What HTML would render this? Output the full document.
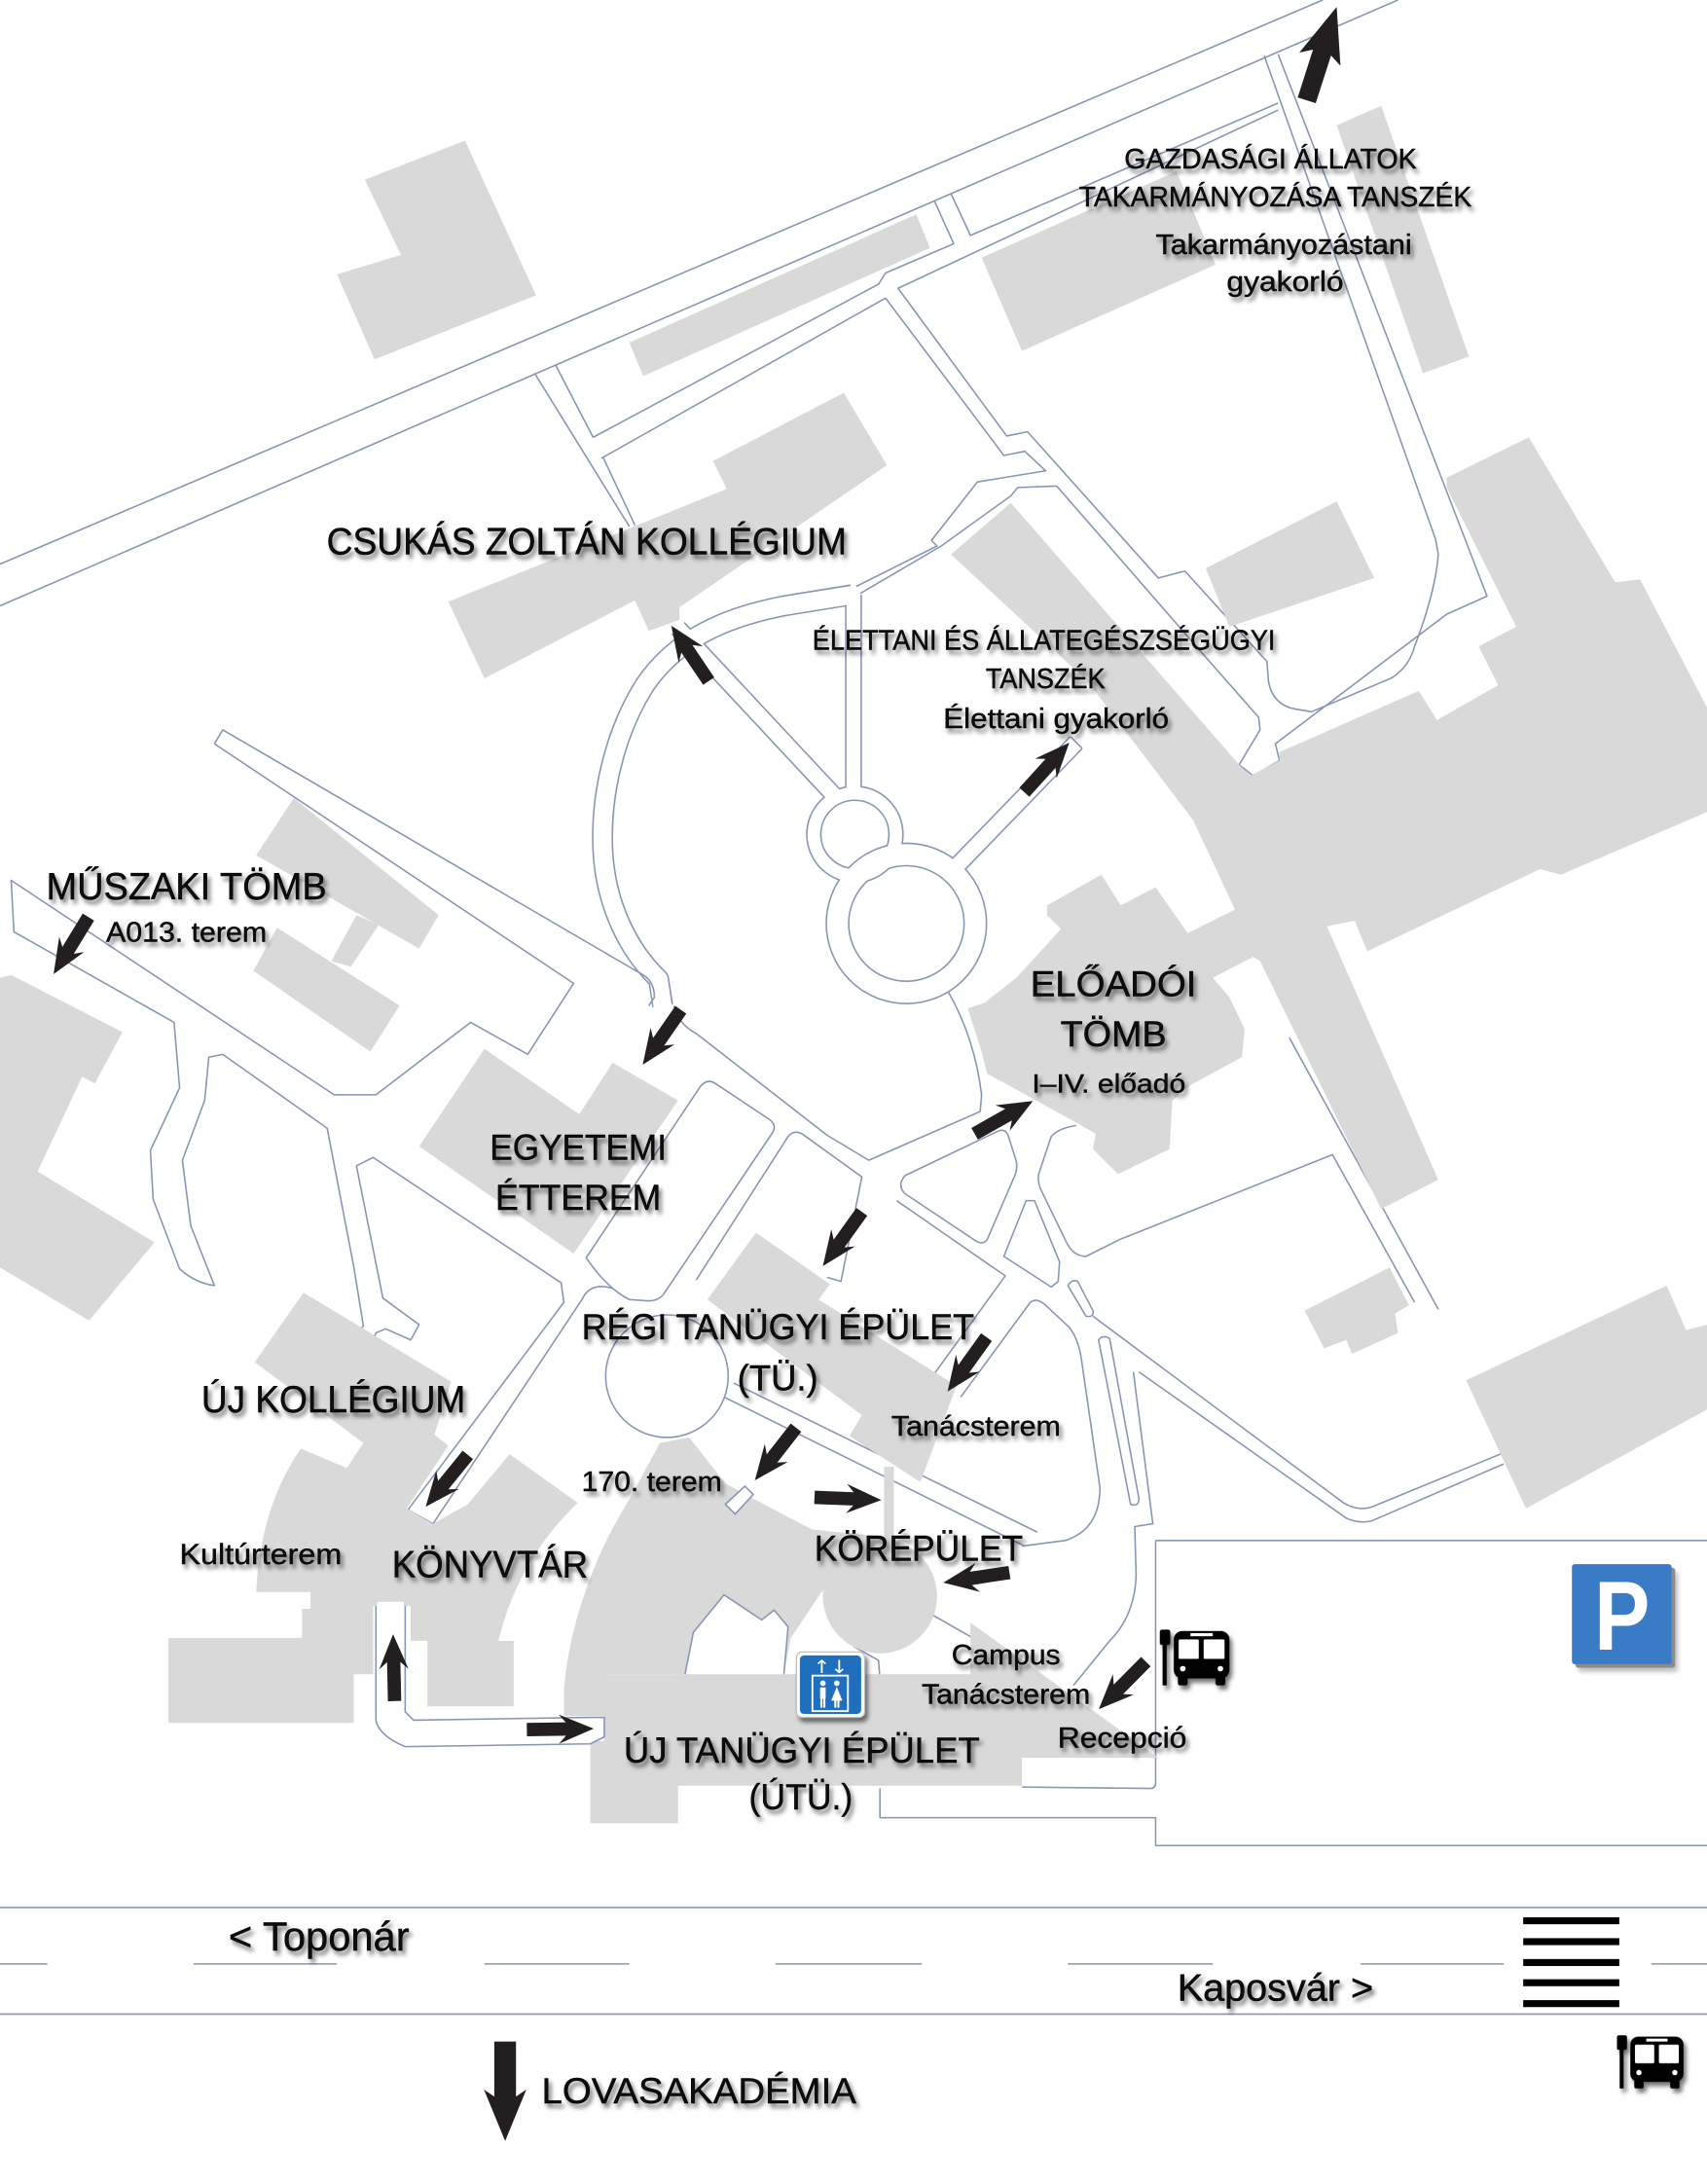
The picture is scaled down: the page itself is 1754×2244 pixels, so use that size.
<!DOCTYPE html>
<html><head><meta charset="utf-8"><title>Campus map</title>
<style>
html,body{margin:0;padding:0;background:#fff;}
svg{display:block;}
text{font-family:"Liberation Sans",sans-serif;fill:#0a0a0a;}
</style></head>
<body>
<svg xmlns="http://www.w3.org/2000/svg" width="1754" height="2244" viewBox="0 0 1226 1568" preserveAspectRatio="none">
<defs>
<filter id="sh" x="-20%" y="-40%" width="140%" height="200%">
<feDropShadow dx="2" dy="3" stdDeviation="1.6" flood-color="#000" flood-opacity="0.55"/>
</filter>
</defs>
<rect x="0" y="0" width="1226" height="1568" fill="#fff"/>

<!-- stroke-trick roads: blue pass -->
<g fill="none" stroke="#8795b5" stroke-linecap="butt" stroke-linejoin="round">
<circle cx="614" cy="599" r="29.5" stroke-width="11.2"/>
<circle cx="651" cy="663" r="49.5" stroke-width="17.2"/>
<path d="M613,427 L613,568" stroke-width="12.2"/>
<path d="M487,451 L598,570" stroke-width="13.2"/>
<path d="M686,623 L773,533" stroke-width="13.2"/>
<path d="M612,427 L563,435 C522,443 486,458 463,492 C441,527 431,572 433,611 C435,649 451,682 473,703 L476,722" stroke-width="15.2"/>
</g>
<!-- white pass -->
<g fill="none" stroke="#fff" stroke-linecap="butt" stroke-linejoin="round">
<circle cx="614" cy="599" r="29.5" stroke-width="9"/>
<circle cx="651" cy="663" r="49.5" stroke-width="15"/>
<path d="M613,426 L613,569" stroke-width="10"/>
<path d="M486,450 L599,571" stroke-width="11"/>
<path d="M685,624 L774,532" stroke-width="11"/>
<path d="M613,427 L563,435 C522,443 486,458 463,492 C441,527 431,572 433,611 C435,649 451,682 473,703 L476,723" stroke-width="13"/>
</g>

<!-- plain road lines -->
<g fill="none" stroke="#8795b5" stroke-width="1.1" stroke-linejoin="round">
<path d="M0,405 L950,0"/>
<path d="M0,435 L1004,0"/>
<path d="M384,268 L452,378 M399,262 L426,314 M433,328 L456,377"/>
<path d="M426,314 L631,204 L636,196 L685,175 L671,144"/>
<path d="M683,139 L697,169 L918,74"/>
<path d="M918,79 L645,207 L723,313 L738,310 L832,415 L851,410 L910,475 L911,489 Q914,506 930,509 L942,511 L999,487 Q1012,479 1016,464 Q1031,425 1033,398 L1031,387 L908,40"/>
<path d="M432,329 L636,214 L721,327 L736,324 L751,338 L702,346 L669,388 L673,392 L615,421"/>
<path d="M759,349 L860,465 L904,515 L905,524 L890,549 L900,557 L919,546 L916,534 L1039,441 L1068,428 L918,39"/>
<path d="M759,349 L731,350 L726,356 L676,392 L618,426"/>
<path d="M769,529 L777,537"/>
<!-- Muszaki area -->
<path d="M154,534 L412,706 L379,757 L338,734 L270,786 L240,786 L8,632 L10,669 L125,734 L129,781 L108,826 L110,861 L129,911 Q140,921 154,923 L137,880 L131,833 L147,790 L150,759 L160,757 L235,810 L254,909 L261,952 L259,954"/>
<path d="M154,534 L160,524 L462,700 Q470,705 470,716 L466,722"/>
<path d="M268,962 L270,957 L277,954 L295,962 L301,951 L275,932 L256,837 L268,831 L403,921 L405,935 L293,1084 L311,1094 L418,933 Q424,920 440,925"/>
<!-- E road -->
<path d="M681,712 Q700,745 705,786 L704,798 L624,833 L594,815 L500,742 Q487,735 484,722"/>
<!-- lower right -->
<path d="M773,808 Q760,810 755,816 L746,843 Q745,849 748,855 L766,892 Q771,902 780,902 L804,890 L957,829 L1016,935"/>
<path d="M926,745 L1033,940"/>
<path d="M644,862 L722,916 L664,996"/>
<path d="M690,1003 L740,935 Q745,931 752,938 L768,953 Q775,962 777,978 L790,1068 Q790,1098 765,1106 L734,1110"/>
<path d="M785,945 L965,1079 Q975,1085 985,1082 L1080,1043"/>
<path d="M818,985 L967,1090 Q976,1094 985,1092 L1080,1051"/>
<path d="M814,985 L828,1094 L815,1096 L816,1131 Q815,1160 797,1178 L771,1210"/>
<path d="M520,1003 L736,1110 M527,993 L745,1100"/>
<path d="M669,1159 L697,1175 M613,1182 L631,1192 L632,1206"/>
<!-- parking -->
<path d="M830,1106 L1226,1106 M830,1106 L830,1280 Q830,1284 826,1284 L734,1283"/>
<path d="M632,1284 L632,1305 L830,1305 L830,1325 L1226,1325"/>
<!-- islands -->
<path d="M421,903 L503,780 Q508,774 514,778 L553,804 Q558,808 555,813 L476,930 Q472,934 466,934 L452,933 Q436,925 421,903 Z"/>
<path d="M500,919 L566,816 Q570,811 576,814 L619,845 L604,920 L594,917"/>
<path d="M650,844 L717,812 Q722,810 724,815 L730,834 Q731,840 728,846 L709,890 Q706,894 701,891 L650,857 Q644,851 650,844 Z"/>
<path d="M721,902 L737,862 L743,862 L761,906 L760,920 L755,924 Z"/>
<path d="M767,923 Q770,918 774,920 L785,941 Q786,946 780,945 Z"/>
<path d="M789,962 Q792,958 797,961 L818,1076 Q818,1082 812,1080 Z"/>
<circle cx="479" cy="988" r="44"/>
<!-- street -->
<path d="M0,1369.5 L1226,1369.5 M0,1446 L1226,1446"/>
<path d="M0,1410 L34,1410 M139,1410 L242,1410 M348,1410 L452,1410 M557,1410 L662,1410 M767,1410 L871,1410 M977,1410 L1080,1410 M1186,1410 L1226,1410"/>
</g>

<!-- buildings -->
<g fill="#d9d9d9" stroke="none">
<polygon points="334,101 385,212 269,258 242,197 288,183 262,129"/>
<polygon points="452,246 462,270 668,178 658,154"/>
<polygon points="322,432 348,487 456,431 466,453 488,445 488,436 637,334 606,282 512,331 522,351"/>
<polygon points="705,185 734,252 873,190 845,123"/>
<polygon points="960,90 992,76 1055,256 1022,268"/>
<polygon points="866,408 960,360 987,415 883,450"/>
<polygon points="683,398 726,361 890,549 898,557 919,546 919,540 1019,496 1032,517 1076,492 1062,464 1089,450 1039,350 1039,343 1098,314 1160,418 1178,416 1226,508 1226,583 1121,628 1106,624 982,683 973,661 953,665 1033,847 992,868 905,690 900,687 871,702 883,716 894,739 892,759 855,779 842,790 840,825 803,843 785,825 787,814 773,806 726,780 709,771 705,755 695,724 707,720 730,702 762,667 752,657 752,650 791,628 805,650 830,637 853,670 887,653 857,589 781,489"/>
<polygon points="937,941 998,910 1012,937 1002,943 1004,957 971,972 967,962 951,968"/>
<polygon points="1053,991 1197,923 1211,955 1226,951 1226,1012 1096,1083"/>
<polygon points="211,573 315,657 301,681 184,614"/>
<polygon points="199,666 287,722 266,755 182,697"/>
<polygon points="256,657 272,664 252,694 238,690"/>
<polygon points="0,702 8,700 88,741 68,778 59,773 27,841 111,892 64,948 0,910"/>
<polygon points="301,823 348,753 416,800 440,763 487,790 412,900"/>
<path d="M218,928 L324,992 L312,1030 L322,1038 L292,1083 L311,1094 L336,1080 L366,1044 L415,1079 Q372,1120 358,1178 L369,1178 L369,1225 L307,1225 L307,1178 L295,1178 L295,1153 L268,1153 L268,1202 L254,1202 L254,1237 L121,1237 L121,1176 L217,1176 L217,1155 L223,1155 L223,1143 L184,1143 Q187,1082 216,1040 L249,1054 L261,1036 L183,978 Z"/>
<polygon points="508,933 543,885 596,922 588,933 687,995 661,1064 610,1031 619,1016"/>
<path d="M405,1232 L405,1213 Q408,1180 418,1150 Q430,1112 450,1080 L474,1036 L495,1032 L521,1065 L541,1076 L583,1098 L605,1112 L600,1135 L590,1143 L568,1176 L563,1202 L434,1202 L434,1232 Z"/>
<circle cx="632" cy="1146" r="41"/>
<polygon points="583,1098 640,1104 655,1115 612,1140"/>
<rect x="635" y="1053" width="7" height="58"/>
<polygon points="434,1202 697,1202 697,1165 832,1262 734,1262 734,1282 487,1282 487,1309 424,1309 424,1250 434,1250"/>
</g>

<!-- pockets / path ends drawn over buildings -->
<g fill="#fff" stroke="#8795b5" stroke-width="1.1" stroke-linejoin="round">
<path d="M492,1202 L498,1172 L520,1145 L547,1163 L556,1156 L566,1168 L563,1202"/>
<polygon points="521,1080 528,1087 541,1073 535,1067"/>
<path d="M270,1153 L270,1235 Q272,1246 291,1254 L424,1252 L434,1247 L434,1233 L424,1233 L297,1235 L291,1229 L291,1153"/>
</g>
<rect x="271" y="1150" width="19" height="4" fill="#fff"/>

<!-- crosswalk -->
<g fill="#000">
<rect x="1094" y="1376.5" width="69" height="5"/>
<rect x="1094" y="1391.5" width="69" height="5"/>
<rect x="1094" y="1406.5" width="69" height="5"/>
<rect x="1094" y="1421" width="69" height="5"/>
<rect x="1094" y="1436" width="69" height="5"/>
</g>

<!-- arrows -->
<g fill="#231f20">
<path d="M0,-6.8H36L31,-15.5L70.4,0L31,15.5L36,6.8H0Z" transform="translate(938.5,72) rotate(-72.2)"/>
<path d="M0,-4.8H28L23,-10.5L48,0L23,10.5L28,4.8H0Z" transform="translate(509,489) rotate(-124)"/>
<path d="M0,-4.8H28L23,-10.5L48,0L23,10.5L28,4.8H0Z" transform="translate(735.7,568.8) rotate(-47.8)"/>
<path d="M0,-4.8H28L23,-10.5L48,0L23,10.5L28,4.8H0Z" transform="translate(63.5,658.4) rotate(121.4)"/>
<path d="M0,-4.8H28L23,-10.5L48,0L23,10.5L28,4.8H0Z" transform="translate(489,725) rotate(124.8)"/>
<path d="M0,-4.8H28L23,-10.5L48,0L23,10.5L28,4.8H0Z" transform="translate(700,814) rotate(-29.4)"/>
<path d="M0,-4.8H28L23,-10.5L48,0L23,10.5L28,4.8H0Z" transform="translate(619,870) rotate(125.7)"/>
<path d="M0,-4.8H28L23,-10.5L48,0L23,10.5L28,4.8H0Z" transform="translate(708.5,960) rotate(125.6)"/>
<path d="M0,-4.8H28L23,-10.5L48,0L23,10.5L28,4.8H0Z" transform="translate(571.7,1025) rotate(128)"/>
<path d="M0,-4.8H28L23,-10.5L48,0L23,10.5L28,4.8H0Z" transform="translate(336,1044.5) rotate(129.1)"/>
<path d="M0,-4.8H28L23,-10.5L48,0L23,10.5L28,4.8H0Z" transform="translate(585,1075) rotate(2.3)"/>
<path d="M0,-4.8H28L23,-10.5L48,0L23,10.5L28,4.8H0Z" transform="translate(725,1129) rotate(171.3)"/>
<path d="M0,-4.8H28L23,-10.5L48,0L23,10.5L28,4.8H0Z" transform="translate(283.4,1221.3) rotate(-91.3)"/>
<path d="M0,-4.8H28L23,-10.5L48,0L23,10.5L28,4.8H0Z" transform="translate(378.4,1241.8) rotate(-0.9)"/>
<path d="M0,-4.8H28L23,-10.5L48,0L23,10.5L28,4.8H0Z" transform="translate(823,1193) rotate(134.8)"/>
<path d="M0,-7.8H39.5L34.5,-15.2L71.5,0L34.5,15.2L39.5,7.8H0Z" transform="translate(362.8,1465.7) rotate(90)"/>
</g>

<!-- parking sign -->
<g>
<rect x="1131.5" y="1125.5" width="71.6" height="71.8" rx="2" fill="#000" opacity="0.45" filter="url(#sh)"/>
<rect x="1129" y="1123" width="71.6" height="71.8" rx="2" fill="#3a7bc6"/>
<text x="1145" y="1184.5" font-size="71" font-weight="bold" textLength="40" lengthAdjust="spacingAndGlyphs" style="fill:#fff">P</text>
</g>

<!-- elevator icon -->
<g>
<rect x="572" y="1186" width="49" height="47" rx="4" fill="#fff" stroke="#bbb" stroke-width="0.8" filter="url(#sh)"/>
<rect x="574.5" y="1188.5" width="44" height="42" rx="3" fill="#1f6fbd"/>
<text x="584" y="1201" font-size="13" style="font-family:'DejaVu Sans',sans-serif;fill:#fff" textLength="25" lengthAdjust="spacingAndGlyphs">↑↓</text>
<rect x="583.5" y="1203" width="25.5" height="25.5" fill="none" stroke="#fff" stroke-width="1.3"/>
<circle cx="591" cy="1208.5" r="2" fill="#fff"/>
<rect x="589" y="1211.5" width="4" height="8" fill="#fff"/>
<rect x="589.2" y="1219" width="1.5" height="7" fill="#fff"/>
<rect x="591.3" y="1219" width="1.5" height="7" fill="#fff"/>
<circle cx="601" cy="1208.5" r="2" fill="#fff"/>
<polygon points="601,1211 597,1221 605,1221" fill="#fff"/>
<rect x="599.2" y="1220" width="1.5" height="6" fill="#fff"/>
<rect x="601.4" y="1220" width="1.5" height="6" fill="#fff"/>
</g>

<!-- bus icons -->
<g filter="url(#sh)">
<g>
<rect x="833" y="1170" width="7.5" height="11" rx="1.5" fill="#000"/>
<rect x="835" y="1178" width="3" height="32" fill="#000"/>
<rect x="843" y="1171" width="40" height="34" rx="6" fill="#000"/>
<rect x="855" y="1172.5" width="16" height="2.2" fill="#fff"/>
<rect x="846.5" y="1177" width="14.5" height="14" rx="1" fill="#fff"/>
<rect x="864.5" y="1177" width="15" height="14" rx="1" fill="#fff"/>
<circle cx="849.5" cy="1198" r="2" fill="#fff"/>
<circle cx="876.5" cy="1198" r="2" fill="#fff"/>
<rect x="846" y="1203" width="7" height="7" rx="1.5" fill="#000"/>
<rect x="873" y="1203" width="7" height="7" rx="1.5" fill="#000"/>
</g>
<g transform="translate(1162.3,1461.7) scale(0.955) translate(-834,-1170.5)">
<rect x="833" y="1170" width="7.5" height="11" rx="1.5" fill="#000"/>
<rect x="835" y="1178" width="3" height="32" fill="#000"/>
<rect x="843" y="1171" width="40" height="34" rx="6" fill="#000"/>
<rect x="855" y="1172.5" width="16" height="2.2" fill="#fff"/>
<rect x="846.5" y="1177" width="14.5" height="14" rx="1" fill="#fff"/>
<rect x="864.5" y="1177" width="15" height="14" rx="1" fill="#fff"/>
<circle cx="849.5" cy="1198" r="2" fill="#fff"/>
<circle cx="876.5" cy="1198" r="2" fill="#fff"/>
<rect x="846" y="1203" width="7" height="7" rx="1.5" fill="#000"/>
<rect x="873" y="1203" width="7" height="7" rx="1.5" fill="#000"/>
</g>
</g>

<!-- labels -->
<g filter="url(#sh)" stroke="#000" stroke-width="0.3">
<text x="807.5" y="121" font-size="20" textLength="210" lengthAdjust="spacingAndGlyphs">GAZDASÁGI ÁLLATOK</text>
<text x="775" y="148" font-size="20" textLength="282" lengthAdjust="spacingAndGlyphs">TAKARMÁNYOZÁSA TANSZÉK</text>
<text x="830" y="182.5" font-size="20" textLength="184" lengthAdjust="spacingAndGlyphs">Takarmányozástani</text>
<text x="881" y="209" font-size="20" textLength="84" lengthAdjust="spacingAndGlyphs">gyakorló</text>
<text x="234.6" y="398" font-size="27" textLength="373.5" lengthAdjust="spacingAndGlyphs">CSUKÁS ZOLTÁN KOLLÉGIUM</text>
<text x="583.5" y="466.5" font-size="20" textLength="332.5" lengthAdjust="spacingAndGlyphs">ÉLETTANI ÉS ÁLLATEGÉSZSÉGÜGYI</text>
<text x="708" y="494" font-size="20" textLength="85.7" lengthAdjust="spacingAndGlyphs">TANSZÉK</text>
<text x="677.5" y="522.5" font-size="20" textLength="162" lengthAdjust="spacingAndGlyphs">Élettani gyakorló</text>
<text x="33.2" y="645.7" font-size="27" textLength="201.4" lengthAdjust="spacingAndGlyphs">MŰSZAKI TÖMB</text>
<text x="76.2" y="676.2" font-size="20" textLength="115.4" lengthAdjust="spacingAndGlyphs">A013. terem</text>
<text x="351.8" y="832.5" font-size="26" textLength="127" lengthAdjust="spacingAndGlyphs">EGYETEMI</text>
<text x="355.8" y="868.5" font-size="26" textLength="119" lengthAdjust="spacingAndGlyphs">ÉTTEREM</text>
<text x="740" y="715.3" font-size="26" textLength="119.3" lengthAdjust="spacingAndGlyphs">ELŐADÓI</text>
<text x="761.6" y="751.2" font-size="26" textLength="76.2" lengthAdjust="spacingAndGlyphs">TÖMB</text>
<text x="741.2" y="784.4" font-size="19" textLength="110.3" lengthAdjust="spacingAndGlyphs">I–IV. előadó</text>
<text x="417.7" y="961.6" font-size="26" textLength="282" lengthAdjust="spacingAndGlyphs">RÉGI TANÜGYI ÉPÜLET</text>
<text x="529.6" y="998" font-size="26" textLength="58" lengthAdjust="spacingAndGlyphs">(TÜ.)</text>
<text x="640.2" y="1030.7" font-size="20" textLength="121.6" lengthAdjust="spacingAndGlyphs">Tanácsterem</text>
<text x="417.7" y="1070.5" font-size="20" textLength="100.8" lengthAdjust="spacingAndGlyphs">170. terem</text>
<text x="144.6" y="1014" font-size="27" textLength="189.7" lengthAdjust="spacingAndGlyphs">ÚJ KOLLÉGIUM</text>
<text x="129" y="1122.8" font-size="21" textLength="116.5" lengthAdjust="spacingAndGlyphs">Kultúrterem</text>
<text x="281.5" y="1132.2" font-size="27" textLength="140.7" lengthAdjust="spacingAndGlyphs">KÖNYVTÁR</text>
<text x="584.9" y="1120.5" font-size="26" textLength="149.8" lengthAdjust="spacingAndGlyphs">KÖRÉPÜLET</text>
<text x="683.4" y="1194.8" font-size="20" textLength="78.2" lengthAdjust="spacingAndGlyphs">Campus</text>
<text x="661.9" y="1223.3" font-size="20" textLength="121.1" lengthAdjust="spacingAndGlyphs">Tanácsterem</text>
<text x="759.6" y="1254.6" font-size="21" textLength="92.7" lengthAdjust="spacingAndGlyphs">Recepció</text>
<text x="448" y="1265.6" font-size="26" textLength="255.7" lengthAdjust="spacingAndGlyphs">ÚJ TANÜGYI ÉPÜLET</text>
<text x="537.9" y="1299" font-size="26" textLength="74.6" lengthAdjust="spacingAndGlyphs">(ÚTÜ.)</text>
<text x="164.2" y="1400.4" font-size="29" textLength="129.8" lengthAdjust="spacingAndGlyphs">&lt; Toponár</text>
<text x="845.6" y="1436.3" font-size="27" textLength="140.7" lengthAdjust="spacingAndGlyphs">Kaposvár &gt;</text>
<text x="389" y="1509.9" font-size="26" textLength="226" lengthAdjust="spacingAndGlyphs">LOVASAKADÉMIA</text>
</g>
</svg>
</body></html>
